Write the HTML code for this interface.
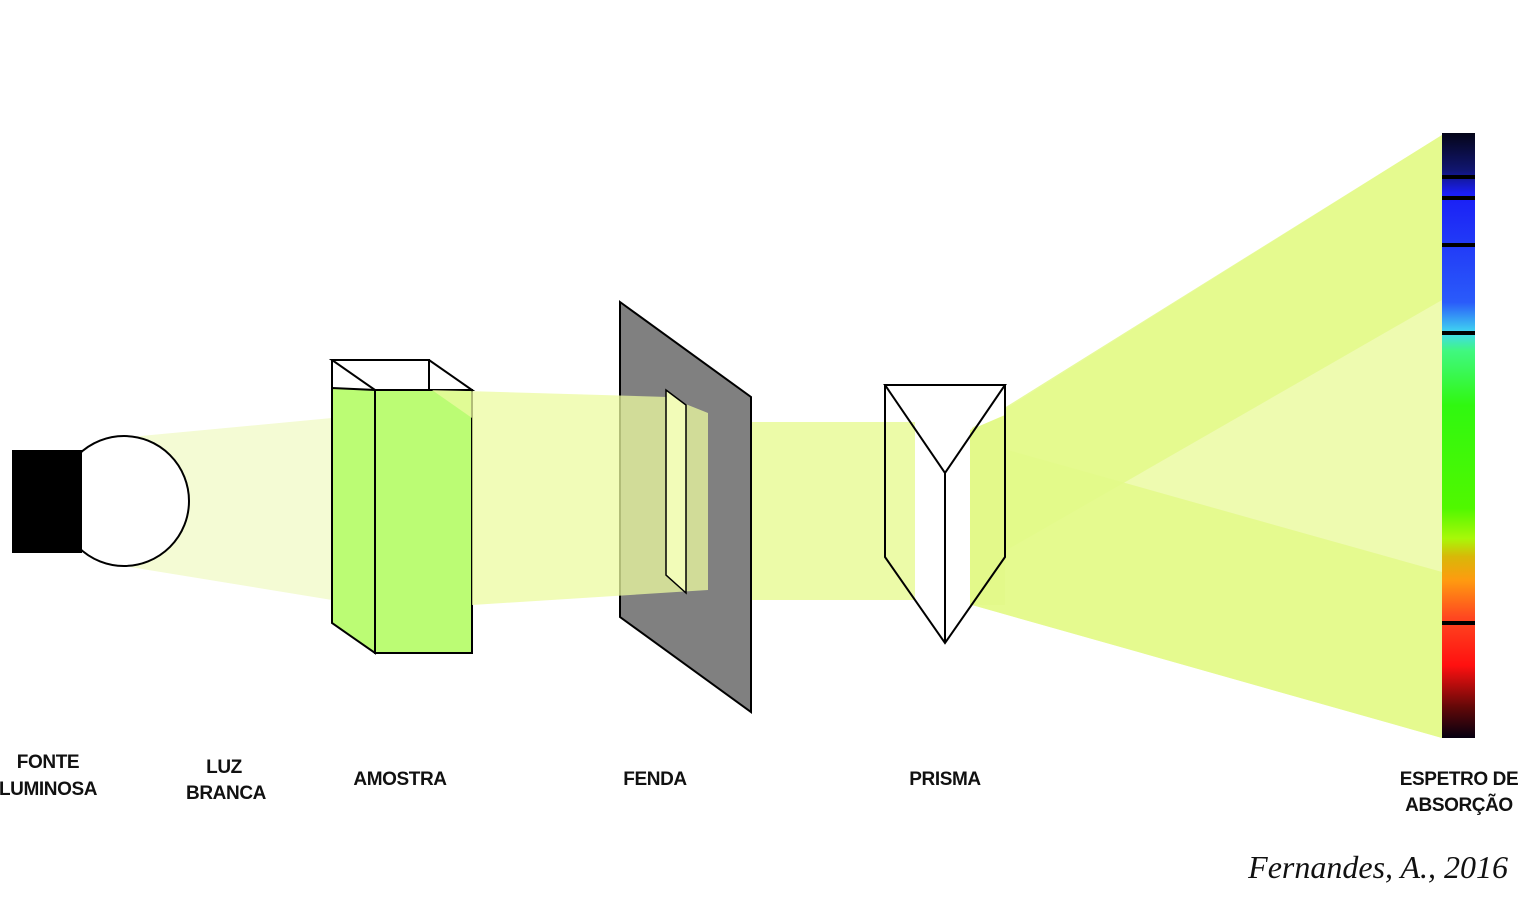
<!DOCTYPE html>
<html><head><meta charset="utf-8"><style>
html,body{margin:0;padding:0;background:#fff;}
svg{display:block;}
.lb{font-family:"Liberation Sans",sans-serif;font-weight:bold;font-size:19px;fill:#111;text-anchor:middle;letter-spacing:-0.4px;}
</style></head><body>
<svg width="1523" height="900" viewBox="0 0 1523 900">
<defs>
<linearGradient id="spec" x1="0" y1="0" x2="0" y2="1">
<stop offset="0" stop-color="#050518"/>
<stop offset="0.06" stop-color="#10156e"/>
<stop offset="0.1" stop-color="#1a1ef5"/>
<stop offset="0.28" stop-color="#2a5bfa"/>
<stop offset="0.33" stop-color="#40d8f0"/>
<stop offset="0.36" stop-color="#40f880"/>
<stop offset="0.45" stop-color="#30f810"/>
<stop offset="0.62" stop-color="#50f800"/>
<stop offset="0.67" stop-color="#a8f808"/>
<stop offset="0.7" stop-color="#d8b808"/>
<stop offset="0.74" stop-color="#ff9a10"/>
<stop offset="0.8" stop-color="#ff4820"/>
<stop offset="0.88" stop-color="#ff1010"/>
<stop offset="0.95" stop-color="#600808"/>
<stop offset="1" stop-color="#050010"/>
</linearGradient>
</defs>
<!-- beams -->
<polygon points="130,437 332,418 332,600 130,567" fill="#f4fbd4"/>
<polygon points="972,430 1442,135 1442,738 972,605" fill="#eefbb0"/>
<polygon points="972,428 1442,135 1442,300 972,570" fill="#e3f98a" opacity="0.85"/>
<polygon points="972,440 1442,572 1442,738 972,605" fill="#e3f98a" opacity="0.85"/>
<polygon points="700,422 915,422 915,600 700,600" fill="#ecfba8"/>
<!-- lamp -->
<circle cx="124" cy="501" r="65" fill="#fff" stroke="#000" stroke-width="2"/>
<rect x="12" y="450" width="70" height="103" fill="#000"/>
<!-- slit plate -->
<polygon points="620,302 751,397 751,712 620,617" fill="#808080" stroke="#000" stroke-width="2"/>
<!-- cuvette -->
<polyline points="332,623 332,360 429,360 429,390" fill="none" stroke="#000" stroke-width="2"/>
<polygon points="332,360 429,360 472,390 375,390" fill="none" stroke="#000" stroke-width="2"/>
<polygon points="332,388 375,390 375,653 332,623" fill="#bbfc74" stroke="#000" stroke-width="2"/>
<rect x="375" y="390" width="97" height="263" fill="#bbfc74" stroke="#000" stroke-width="2"/>
<polygon points="432,390 668,397 708,413 708,590 472,605 472,418" fill="#ecfba0" opacity="0.75"/>
<polygon points="666,390 686,405 686,593 666,575" fill="#f2fcb8" stroke="#000" stroke-width="1.5"/>
<!-- prism -->
<polygon points="885,385 945,473 945,643 885,557" fill="#fff"/>
<polygon points="1005,385 945,473 945,643 1005,557" fill="#fff"/>
<rect x="885" y="422" width="30" height="178" fill="#ecfba8"/>
<polygon points="970,430 1005,415 1005,605 970,605" fill="#e3f98a"/>
<g fill="none" stroke="#000" stroke-width="2">
<polygon points="885,385 1005,385 945,473"/>
<polyline points="885,385 885,557 945,643 1005,557 1005,385"/>
<line x1="945" y1="473" x2="945" y2="643"/>
</g>
<!-- spectrum -->
<rect x="1442" y="133" width="33" height="605" fill="url(#spec)"/>
<g fill="#000">
<rect x="1442" y="175" width="33" height="4"/>
<rect x="1442" y="196" width="33" height="4"/>
<rect x="1442" y="243" width="33" height="4"/>
<rect x="1442" y="331" width="33" height="4"/>
<rect x="1442" y="621" width="33" height="4"/>
</g>
<!-- labels -->
<text class="lb"><tspan x="48" y="768">FONTE</tspan><tspan x="48" y="795">LUMINOSA</tspan></text>
<text class="lb"><tspan x="224" y="773">LUZ</tspan><tspan x="226" y="799">BRANCA</tspan></text>
<text class="lb" x="400" y="785">AMOSTRA</text>
<text class="lb" x="655" y="785">FENDA</text>
<text class="lb" x="945" y="785">PRISMA</text>
<text class="lb"><tspan x="1459" y="785">ESPETRO DE</tspan><tspan x="1459" y="811">ABSORÇÃO</tspan></text>
<text x="1508" y="878" text-anchor="end" style="font-family:'Liberation Serif',serif;font-style:italic;font-size:32px;fill:#111;">Fernandes, A., 2016</text>
</svg>
</body></html>
